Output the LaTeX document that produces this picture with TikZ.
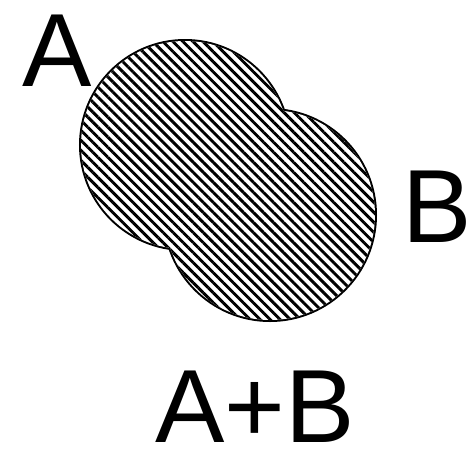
\documentclass[tikz,border=0pt]{standalone}
\usepackage{fontspec}
\setmainfont{Liberation Sans}
\usetikzlibrary{patterns.meta}
\tikzset{
  lbl/.style={inner sep=0pt, anchor=base west, text depth=0pt, font=\fontsize{104}{104}\selectfont},
  hatch/.style={pattern={Lines[angle=-45,distance=7.1pt,line width=2.9pt]}, pattern color=black},
}
\begin{document}
\begin{tikzpicture}[x=1pt,y=-1pt]
\useasboundingbox (0,0) rectangle (472,451);
\coordinate (ca) at (185,145);
\coordinate (cb) at (270,215);
% outer outline (inner half of a thick stroke covered by the white fill)
\draw[line width=4pt, black] (ca) circle[radius=104] (cb) circle[radius=105];
\fill[white] (ca) circle[radius=104] (cb) circle[radius=105];
\fill[hatch] (ca) circle[radius=104] (cb) circle[radius=105];
\node[lbl] (la) at (22,86) {A};
\node[lbl] (lb) at (402,242) {B};
\node[lbl] (lab) at (155,442) {A+B};
\end{tikzpicture}
\end{document}
